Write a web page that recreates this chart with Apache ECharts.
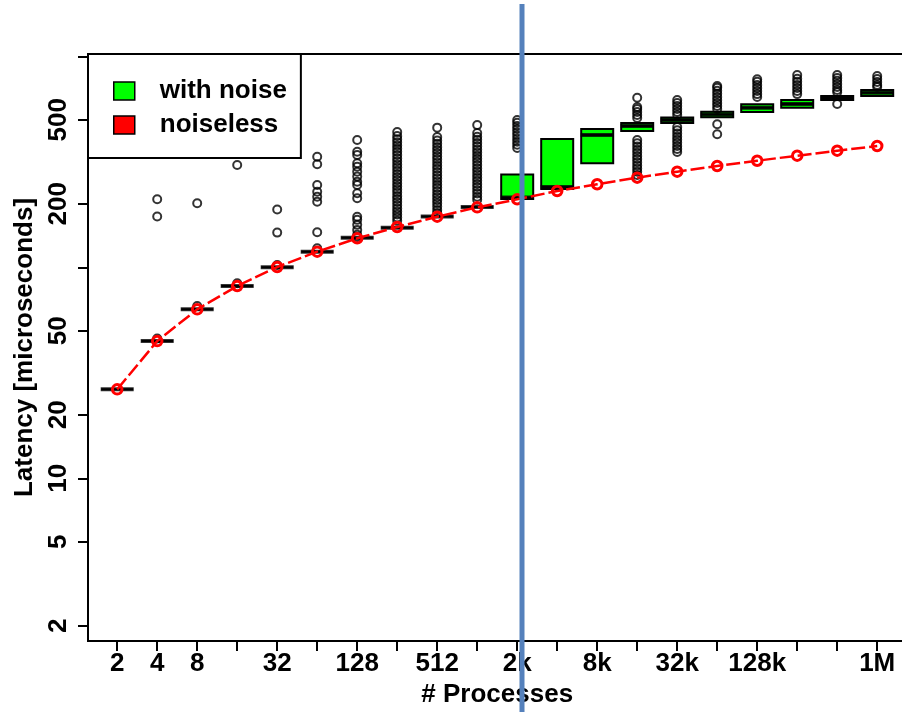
<!DOCTYPE html>
<html><head><meta charset="utf-8">
<script src="https://cdn.jsdelivr.net/npm/echarts@6/dist/echarts.min.js"></script>
<style>html,body{margin:0;padding:0;background:#fff}#c{width:902px;height:712px}</style>
</head><body><div id="c"></div>
<script>
// ---- data ----
const categories = ['2','4','8','16','32','64','128','256','512','1k','2k','4k','8k','16k','32k','64k','128k','256k','512k','1M'];
const xLabelShown = ['2','4','8','32','128','512','2k','8k','32k','128k','1M'];
const yTickValues = [2,5,10,20,50,100,200,500,1000];
const yLabelValues = [2,5,10,20,50,200,500];
const noiseless = [26.4,44.7,63.2,81.5,100.3,118.6,137.2,155.2,173.7,192.4,210,230,247.4,266,283.9,302,320,338,357,375.7];
const whiskerLow  = [26.4,44.7,63.2,81.5,100,118.6,138,154,174,193,210.7,235,311,443,483,514,544.5,571,621,648.5];
const q1          = [26.4,44.7,63.2,81.5,100,118.6,138,154,174,193,210.7,235,311,443,483,514,544.5,571,621,648.5];
const median      = [26.4,44.7,63.2,81.5,100,118.6,138,154,174,193,214,240,424,467,499,530,571,594,634.5,672];
const q3          = [26.4,44.7,63.2,81.5,100,118.6,138,154,174,193,275.4,405.5,452,483,513,546,592,621,648.5,692];
const whiskerHigh = [26.4,44.7,63.2,81.5,100,118.6,138,154,174,193,275.4,405.5,452,483,513,546,592,621,648.5,692];
const outliers = [
  [],
  [46,174,210],
  [65.6,201],
  [84,305.5],
  [102.6,146,188],
  [123,146.5,204.6,216,228,245.5,307.6,334],
  [139.2,142.5,150.4,158.9,167.8,173.7,212.3,224.2,245.6,254.5,269,284,300,311,341,353,401],
  [166,172,178,184,190,197,204,211,218,226,234,242,250,259,268,277,287,297,307,318,329,341,353,365,378,391,405,419,438],
  [181,187,194,201,208,215,222,230,238,246,255,264,273,283,293,303,314,325,336,348,360,372,385,399,414,459],
  [209,216,224,232,240,248,257,266,275,285,295,305,316,327,338,350,362,375,388,402,416,433,472],
  [368,381,394,408,422,437,452,468,484,499],
  [],
  [],
  [265,274,284,294,304,315,326,337,349,361,374,387,401,510,527,545,563,575,636],
  [352,364,376,389,402,416,431,446,462,527,545,563,582,601,621],
  [427,476,563,582,601,621,642,664,687,710,723],
  [641,662,685,708,732,757,778],
  [662,685,708,732,757,782,815],
  [594,675,692,715,740,765,790,815],
  [715,731,755,780,806]
];
const dividerAt = 11.12; // vertical marker between 2k and 4k

// ---- build ----
const FONT = '"Liberation Sans", Arial, Helvetica, sans-serif';
const L = Math.log10;
const boxData = categories.map((c,i)=>[i+1, L(whiskerLow[i]), L(q1[i]), L(median[i]), L(q3[i]), L(whiskerHigh[i])]);
const medianData = median.map((v,i)=>[i+1, L(v)]);
const outlierData = [];
outliers.forEach((arr,i)=>arr.forEach(v=>outlierData.push([i+1, L(v)])));
const lineData = noiseless.map((v,i)=>[i+1, L(v)]);
const xTickPos = categories.map((c,i)=>i+1);
const xLabelPos = xLabelShown.map(s=>categories.indexOf(s)+1);

const chart = echarts.init(document.getElementById('c'), null, {renderer:'canvas'});
chart.setOption({
  animation:false,
  backgroundColor:'#fff',
  textStyle:{fontFamily:FONT},
  grid:{left:88, top:54, width:818.4, height:587, show:true, borderColor:'#000', borderWidth:2, backgroundColor:'transparent', containLabel:false, outerBoundsMode:'none'},
  legend:{
    left:88, top:54, orient:'vertical',
    backgroundColor:'#fff', borderColor:'#000', borderWidth:2, borderRadius:0,
    padding:[24,14,20,25], itemGap:8, itemWidth:21, itemHeight:18,
    textStyle:{fontFamily:FONT, fontSize:26, fontWeight:'bold', color:'#000', padding:[3,0,0,20]},
    selectedMode:false,
    data:[
      {name:'with noise', icon:'rect', itemStyle:{color:'#00ff00', borderColor:'#000', borderWidth:1.5}},
      {name:'noiseless', icon:'rect', itemStyle:{color:'#ff0000', borderColor:'#000', borderWidth:1.5}, lineStyle:{opacity:0}}
    ]
  },
  xAxis:{
    type:'value', min:0.27, max:20.73,
    name:'# Processes', nameLocation:'middle', nameGap:41,
    nameTextStyle:{fontFamily:FONT, fontSize:26, fontWeight:'bold', color:'#000'},
    axisLine:{show:true, lineStyle:{color:'#000', width:2}},
    axisTick:{show:true, length:10, lineStyle:{color:'#000', width:2}, customValues:xTickPos},
    axisLabel:{show:true, margin:10, fontFamily:FONT, fontSize:26, fontWeight:'bold', color:'#000', customValues:xLabelPos,
      formatter:v=>categories[Math.round(v)-1]},
    splitLine:{show:false}
  },
  yAxis:{
    type:'value', min:0.2289, max:3.0109,
    name:'Latency [microseconds]', nameLocation:'middle', nameGap:46, nameRotate:90,
    nameTextStyle:{fontFamily:FONT, fontSize:26, fontWeight:'bold', color:'#000'},
    axisLine:{show:true, lineStyle:{color:'#000', width:2}},
    axisTick:{show:true, length:10, lineStyle:{color:'#000', width:2}, customValues:yTickValues.map(L)},
    axisLabel:{show:true, rotate:90, margin:16, fontFamily:FONT, fontSize:26, fontWeight:'bold', color:'#000',
      customValues:yLabelValues.map(L), formatter:v=>String(Math.round(Math.pow(10,v)))},
    splitLine:{show:false}
  },
  series:[
    {
      name:'with noise', type:'boxplot', data:boxData, encode:{x:0, y:[1,2,3,4,5]},
      boxWidth:[32,32],
      itemStyle:{color:'#00ff00', borderColor:'#000', borderWidth:2},
      emphasis:{disabled:true}, z:2
    },
    {
      name:'median', type:'scatter', data:medianData, symbol:'rect', symbolSize:[33,4],
      itemStyle:{color:'#000'}, emphasis:{disabled:true}, z:3
    },
    {
      name:'outliers', type:'scatter', data:outlierData, symbol:'circle', symbolSize:8,
      itemStyle:{color:'rgba(0,0,0,0)', borderColor:'#000', borderWidth:2},
      emphasis:{disabled:true}, z:3
    },
    {
      name:'noiseless', type:'line', data:lineData, symbol:'circle', symbolSize:9.5,
      lineStyle:{color:'#ff0000', width:2.5, type:[14,4]},
      itemStyle:{color:'rgba(0,0,0,0)', borderColor:'#ff0000', borderWidth:3},
      emphasis:{disabled:true}, z:5
    }
  ]
});
const px = chart.convertToPixel({xAxisIndex:0}, dividerAt);
chart.setOption({graphic:[{type:'line', z:100, shape:{x1:px, y1:4, x2:px, y2:712}, style:{stroke:'#5581BC', lineWidth:5}}]});
</script>
</body></html>
